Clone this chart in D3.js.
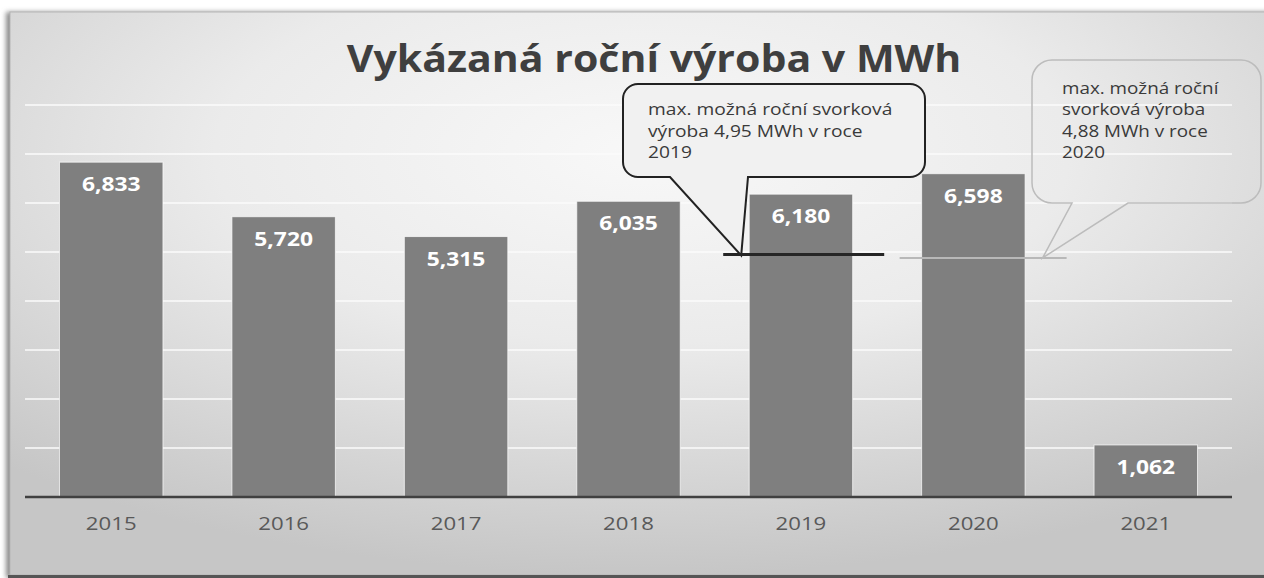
<!DOCTYPE html>
<html>
<head>
<meta charset="utf-8">
<script src="https://cdn.jsdelivr.net/npm/d3@7"></script>
<style>
  html, body { margin: 0; padding: 0; background: #fff; }
  text { font-family: "Open Sans", "DejaVu Sans", sans-serif; }
</style>
</head>
<body>
<div id="chart"></div>
<script>
// data
const years = ['2015', '2016', '2017', '2018', '2019', '2020', '2021'];
const production = [6833, 5720, 5315, 6035, 6180, 6598, 1062];
const yTicks = [1000, 2000, 3000, 4000, 5000, 6000, 7000, 8000];
const limitYears = ['2019', '2020'];
const limitValues = [4950, 4880];
const limitNotes = [
    ['max. možná roční svorková', 'výroba 4,95 MWh v roce', '2019'],
    ['max. možná roční', 'svorková výroba', '4,88 MWh v roce', '2020']
];
const title = 'Vykázaná roční výroba v MWh';

const W = 1264, H = 578;
const sx = 1.2; // the source picture is stretched sideways, so text is too

const svg = d3.select('#chart').append('svg')
    .attr('width', W)
    .attr('height', H);

const defs = svg.append('defs');
const bg = defs.append('radialGradient')
    .attr('id', 'bg')
    .attr('cx', '50%').attr('cy', '25%').attr('r', '75%');
bg.append('stop').attr('offset', '0%').attr('stop-color', '#f8f8f8');
bg.append('stop').attr('offset', '45%').attr('stop-color', '#ebebeb');
bg.append('stop').attr('offset', '100%').attr('stop-color', '#c6c6c6');

const shadow = defs.append('filter').attr('id', 'shadow')
    .attr('x', '-5%').attr('y', '-5%').attr('width', '110%').attr('height', '110%');
shadow.append('feGaussianBlur').attr('stdDeviation', 2.5);

// frame with shadow
svg.append('rect')
    .attr('x', 6).attr('y', 12).attr('width', W).attr('height', 566)
    .attr('fill', '#8a8a8a')
    .attr('filter', 'url(#shadow)');
svg.append('rect')
    .attr('x', 10).attr('y', 12).attr('width', W).attr('height', 563)
    .attr('fill', 'url(#bg)')
    .attr('stroke', '#b5b5b5')
    .attr('stroke-width', 1);
svg.append('rect')
    .attr('x', 8).attr('y', 575).attr('width', W).attr('height', 3)
    .attr('fill', '#555');

// scales
const x = d3.scaleBand()
    .domain(years)
    .range([25, 1232])
    .paddingInner(0.4)
    .paddingOuter(0.2);
const y = d3.scaleLinear()
    .domain([0, 8000])
    .range([497, 105]);

function label(parent, px, py, str, k = sx) {
    return parent.append('text')
        .attr('transform', `translate(${px},${py}) scale(${k},1)`)
        .text(str);
}

// gridlines
svg.append('g')
    .selectAll('line')
    .data(yTicks)
    .join('line')
    .attr('x1', 25).attr('x2', 1232)
    .attr('y1', d => y(d)).attr('y2', d => y(d))
    .attr('stroke', '#fbfbfb')
    .attr('stroke-width', 1.5);

// title
label(svg, 654, 72, title, 1.11)
    .attr('text-anchor', 'middle')
    .attr('font-size', 37)
    .attr('font-weight', 700)
    .attr('fill', '#3f3f3f');

const fmt = d3.format(',');

// bars
const bars = svg.append('g');
bars.selectAll('rect')
    .data(production)
    .join('rect')
    .attr('x', (d, i) => x(years[i]))
    .attr('y', d => y(d))
    .attr('width', x.bandwidth())
    .attr('height', d => y(0) - y(d))
    .attr('fill', '#7f7f7f')
    .attr('stroke', 'rgba(255,255,255,0.7)')
    .attr('stroke-width', 1);

production.forEach((d, i) => {
    label(bars, x(years[i]) + x.bandwidth() / 2, y(d) + 29, fmt(d))
        .attr('text-anchor', 'middle')
        .attr('font-size', 19)
        .attr('font-weight', 700)
        .attr('fill', '#ffffff');
});

// x axis
const xAxis = svg.append('g')
    .attr('transform', `translate(0,${y(0)})`)
    .call(d3.axisBottom(x).tickSize(0).tickPadding(0));
xAxis.select('.domain').remove();
xAxis.append('line')
    .attr('x1', 25).attr('x2', 1232)
    .attr('stroke', '#404040')
    .attr('stroke-width', 2.5);
xAxis.selectAll('.tick text').each(function(d) {
    d3.select(this)
        .attr('y', 0).attr('dy', null)
        .attr('transform', `translate(0,33) scale(${sx},1)`)
        .attr('font-size', 18.5)
        .attr('font-family', '"Open Sans", sans-serif')
        .attr('fill', '#595959');
});

// limit lines, a bit wider than the bar they belong to
const lim1 = { x1: x(limitYears[0]) - 26, x2: x(limitYears[0]) + 135, y: y(limitValues[0]) };
const lim2 = { x1: x(limitYears[1]) - 22, x2: x(limitYears[1]) + 145, y: y(limitValues[1]) };

// callout 1
const tip1 = [lim1.x1 + 18, lim1.y + 1];
const b1 = { x: 623, y: 84, w: 302, h: 93, r: 15 };
svg.append('path')
    .attr('d', calloutPath(b1, 670, 748, tip1))
    .attr('fill', '#f1f1f1')
    .attr('stroke', '#222')
    .attr('stroke-width', 2);
limitNotes[0].forEach((s, i) => {
    label(svg, 648, 115 + i * 21.5, s)
        .attr('font-size', 16)
        .attr('fill', '#3a3a3a');
});

svg.append('line')
    .attr('x1', lim1.x1).attr('x2', lim1.x2)
    .attr('y1', lim1.y).attr('y2', lim1.y)
    .attr('stroke', '#262626')
    .attr('stroke-width', 3);

svg.append('line')
    .attr('x1', lim2.x1).attr('x2', lim2.x2)
    .attr('y1', lim2.y).attr('y2', lim2.y)
    .attr('stroke', '#b8b8b8')
    .attr('stroke-width', 2);

// callout 2, outline only
const tip2 = [lim2.x1 + 143, lim2.y];
const b2 = { x: 1032, y: 60, w: 229, h: 143, r: 20 };
svg.append('path')
    .attr('d', calloutPath(b2, 1072, 1128, tip2))
    .attr('fill', 'none')
    .attr('stroke', '#bcbcbc')
    .attr('stroke-width', 1.5);
limitNotes[1].forEach((s, i) => {
    label(svg, 1062, 94 + i * 21.3, s)
        .attr('font-size', 15.7)
        .attr('fill', '#3a3a3a');
});

// rounded box with a tail on its bottom edge
function calloutPath(b, t1, t2, tip) {
    const p = d3.path();
    const r = b.r, x0 = b.x, y0 = b.y, x1 = b.x + b.w, y1 = b.y + b.h;
    p.moveTo(x0 + r, y0);
    p.lineTo(x1 - r, y0);
    p.arcTo(x1, y0, x1, y0 + r, r);
    p.lineTo(x1, y1 - r);
    p.arcTo(x1, y1, x1 - r, y1, r);
    p.lineTo(t2, y1);
    p.lineTo(tip[0], tip[1]);
    p.lineTo(t1, y1);
    p.lineTo(x0 + r, y1);
    p.arcTo(x0, y1, x0, y1 - r, r);
    p.lineTo(x0, y0 + r);
    p.arcTo(x0, y0, x0 + r, y0, r);
    p.closePath();
    return p.toString();
}
</script>
</body>
</html>
